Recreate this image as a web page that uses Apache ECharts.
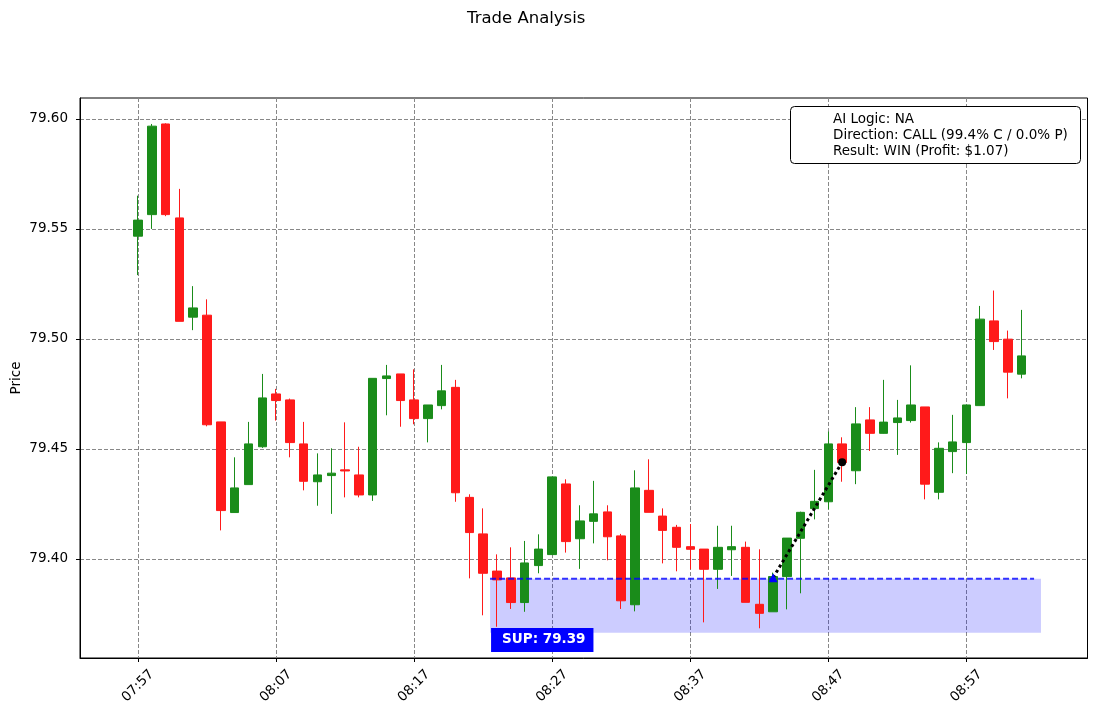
<!DOCTYPE html>
<html><head><meta charset="utf-8">
<script src="https://cdn.jsdelivr.net/npm/echarts@6/dist/echarts.min.js"></script>
<style>html,body{margin:0;padding:0;background:#fff}#c{width:1096px;height:716px}</style>
</head><body><div id="c"></div>
<script>
const opens  = [79.5467,79.5565,79.5977,79.5550,79.5099,79.5108,79.4623,79.4211,79.4338,79.4510,
                79.4750,79.4723,79.4523,79.4351,79.4379,79.4405,79.4382,79.4291,79.4820,79.4841,
                79.4723,79.4638,79.4697,79.4780,79.4280,79.4114,79.3945,79.3914,79.3802,79.3970,
                79.4020,79.4341,79.4092,79.4171,79.4214,79.4105,79.3792,79.4312,79.4195,79.4144,
                79.4056,79.4045,79.3953,79.4042,79.4053,79.3794,79.3760,79.3920,79.4094,79.4229,
                79.4260,79.4523,79.4401,79.4632,79.4571,79.4620,79.4629,79.4691,79.4303,79.4488,
                79.4529,79.4697,79.5082,79.4999,79.4840];
const closes = [79.5540,79.5967,79.5565,79.5080,79.5141,79.4610,79.4220,79.4323,79.4523,79.4732,
                79.4720,79.4529,79.4353,79.4382,79.4390,79.4400,79.4291,79.4821,79.4832,79.4720,
                79.4638,79.4700,79.4764,79.4301,79.4120,79.3935,79.3905,79.3802,79.3982,79.4045,
                79.4373,79.4079,79.4173,79.4205,79.4101,79.3810,79.4323,79.4212,79.4130,79.4053,
                79.4044,79.3953,79.4053,79.4056,79.3803,79.3753,79.3920,79.4095,79.4212,79.4262,
                79.4523,79.4438,79.4614,79.4571,79.4622,79.4641,79.4700,79.4340,79.4503,79.4532,
                79.4700,79.5090,79.4988,79.4849,79.4923];
const lows   = [79.5290,79.5500,79.5558,79.5080,79.5040,79.4603,79.4130,79.4211,79.4338,79.4505,
                79.4629,79.4462,79.4312,79.4242,79.4205,79.4280,79.4280,79.4264,79.4653,79.4601,
                79.4612,79.4530,79.4680,79.4260,79.3912,79.3744,79.3692,79.3773,79.3760,79.3935,
                79.4020,79.4029,79.3955,79.4071,79.3994,79.3773,79.3762,79.4212,79.3980,79.3944,
                79.3953,79.3712,79.3864,79.3923,79.3803,79.3685,79.3760,79.3771,79.3844,79.4180,
                79.4226,79.4351,79.4340,79.4491,79.4570,79.4473,79.4620,79.4271,79.4271,79.4390,
                79.4386,79.4697,79.4950,79.4730,79.4821];
const highs  = [79.5651,79.5977,79.5980,79.5682,79.5240,79.5180,79.4623,79.4462,79.4623,79.4841,
                79.4773,79.4729,79.4623,79.4480,79.4503,79.4621,79.4510,79.4821,79.4882,79.4841,
                79.4862,79.4700,79.4882,79.4814,79.4294,79.4230,79.4021,79.4053,79.4082,79.4112,
                79.4373,79.4362,79.4244,79.4355,79.4244,79.4114,79.4403,79.4453,79.4230,79.4155,
                79.4159,79.4045,79.4151,79.4151,79.4079,79.4044,79.3938,79.4095,79.4215,79.4405,
                79.4579,79.4553,79.4690,79.4690,79.4814,79.4723,79.4880,79.4691,79.4530,79.4655,
                79.4700,79.5150,79.5220,79.5038,79.5132];

const tickPositions = [0, 10, 20, 30, 40, 50, 60];
const tickLabels = ['07:57', '08:07', '08:17', '08:27', '08:37', '08:47', '08:57'];
const priceTicks = [79.40, 79.45, 79.50, 79.55, 79.60];

const supportLevel = 79.391;
const supportBandLow = 79.3665;
const supportStart = 25.5;
const supportLineEnd = 64.9;
const supportBandEnd = 65.4;
const supportLabelY = 79.3632;
const supportText = 'SUP: 79.39';

const tradeX = [46, 51];
const tradeY = [79.3915, 79.4440];

const infoLines = ['AI Logic: NA', 'Direction: CALL (99.4% C / 0.0% P)', 'Result: WIN (Profit: $1.07)'];

const FONT = 'DejaVu Sans';
const candleData = opens.map((o, i) => [i, o, closes[i], lows[i], highs[i]]);

const chart = echarts.init(document.getElementById('c'), null, {renderer: 'canvas'});
chart.setOption({
  backgroundColor: '#fff',
  animation: false,
  textStyle: {fontFamily: FONT},
  title: [
    {text: 'Trade Analysis', left: 467, top: 10, padding: 0,
     textStyle: {fontFamily: FONT, fontSize: 16.5, fontWeight: 'normal', color: '#000'}},
    {text: infoLines.join('\n'), left: 790, top: 106, padding: [5, 13, 5, 43],
     backgroundColor: '#fff', borderColor: '#000', borderWidth: 1, borderRadius: 4,
     textStyle: {fontFamily: FONT, fontSize: 13.5, fontWeight: 'normal', color: '#000', lineHeight: 16}}
  ],
  grid: {left: 80, right: 8.5, top: 98, bottom: 58, show: true, borderColor: '#000', borderWidth: 1,
         backgroundColor: 'transparent', containLabel: false, outerBoundsMode: 'none'},
  xAxis: {
    type: 'value', min: -4.2, max: 68.77,
    axisLine: {show: true, onZero: false, lineStyle: {color: '#000', width: 1}},
    axisTick: {show: true, customValues: tickPositions, length: 4, lineStyle: {color: '#000'}},
    axisLabel: {customValues: tickPositions, rotate: 45, align: 'center', verticalAlign: 'middle', margin: 28,
      fontFamily: FONT, fontSize: 13.5, color: '#000',
      formatter: v => tickLabels[tickPositions.indexOf(v)] || ''},
    splitLine: {show: true, lineStyle: {color: '#888', type: [4, 2], width: 1}}
  },
  yAxis: {
    type: 'value', min: 79.355, max: 79.6095, scale: true,
    name: 'Price', nameLocation: 'middle', nameGap: 57, nameMoveOverlap: false,
    nameTextStyle: {fontFamily: FONT, fontSize: 13.5, color: '#000'},
    axisLine: {show: true, onZero: false, lineStyle: {color: '#000', width: 1}},
    axisTick: {show: true, customValues: priceTicks, length: 4, lineStyle: {color: '#000'}},
    axisLabel: {customValues: priceTicks, margin: 12, fontFamily: FONT, fontSize: 13.5, color: '#000',
      formatter: v => v.toFixed(2)},
    splitLine: {show: true, lineStyle: {color: '#888', type: [4, 2], width: 1}}
  },
  series: [
    {
      type: 'candlestick', name: 'Price',
      data: candleData, encode: {x: 0, y: [1, 2, 3, 4]},
      barWidth: 9, z: 2,
      itemStyle: {color: '#1a8c1a', color0: '#ff1a1a', borderColor: '#1a8c1a', borderColor0: '#ff1a1a', borderWidth: 1}
    },
    {
      type: 'line', name: 'Support', z: 4, silent: true,
      data: [[supportStart, supportLevel], [supportLineEnd, supportLevel]],
      showSymbol: false, symbol: 'none',
      lineStyle: {color: 'rgba(0,0,255,0.8)', width: 2, type: [6, 3]},
      markArea: {
        silent: true,
        itemStyle: {color: 'rgba(0,0,255,0.2)'},
        data: [[{coord: [supportStart, supportLevel]}, {coord: [supportBandEnd, supportBandLow]}]]
      }
    },
    {
      type: 'scatter', name: 'SupLabel', z: 6, silent: true,
      data: [[supportStart, supportLabelY]], symbolSize: 0,
      itemStyle: {opacity: 1},
      label: {show: true, position: 'right', distance: 1, formatter: supportText,
        backgroundColor: '#0000ff', color: '#fff', fontWeight: 'bold', fontFamily: FONT, fontSize: 13.5,
        padding: [5, 8, 5, 11]}
    },
    {
      type: 'line', name: 'Trade', z: 7, silent: true,
      data: [
        {value: [tradeX[0], tradeY[0]], symbol: 'triangle', symbolSize: 9, itemStyle: {color: '#0000ff'}},
        {value: [tradeX[1], tradeY[1]], symbol: 'circle', symbolSize: 8, itemStyle: {color: '#000'}}
      ],
      showSymbol: true,
      lineStyle: {color: '#000', width: 3, type: 'dotted'}
    }
  ]
});
</script></body></html>
